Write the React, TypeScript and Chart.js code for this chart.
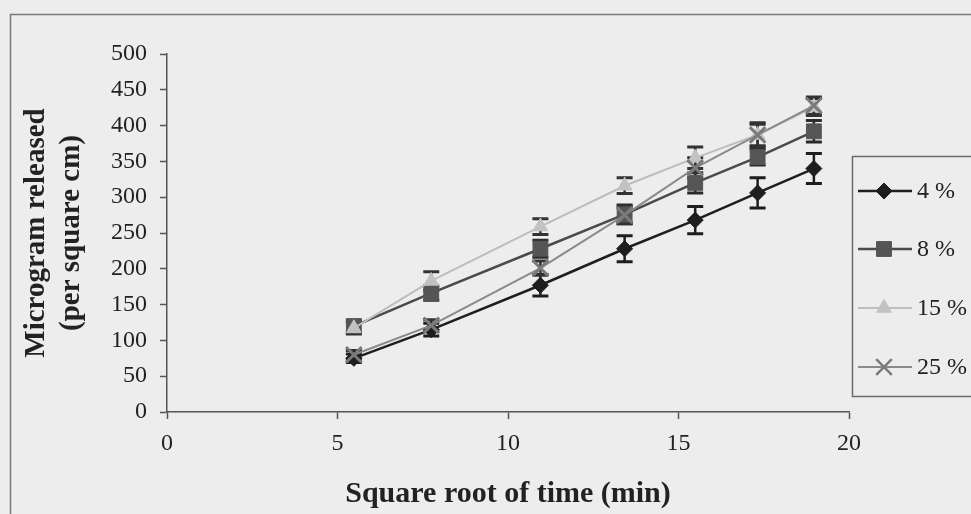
import React, { useEffect, useRef } from "react";
import { Chart, registerables } from "chart.js";
import { drawPoint } from "chart.js/helpers";

Chart.register(...registerables);

// ---- data ----
const sqrtTime = [5.48, 7.75, 10.95, 13.42, 15.49, 17.32, 18.97];
const seriesNames = ["4 %", "8 %", "15 %", "25 %"];
const s4 = [75, 115, 177, 228, 268, 306, 340];
const e4 = [6, 9, 15, 18, 19, 21, 21];
const s8 = [120, 166, 228, 276, 320, 356, 392];
const e8 = [8, 10, 12, 13, 14, 11, 15];
const s15 = [117, 183, 259, 316, 355, 387, 426];
const e15 = [8, 13, 11, 11, 15, 17, 12];
const s25 = [80, 121, 201, 275, 341, 387, 428];
const e25 = [6, 8, 10, 12, 14, 15, 12];
const xTitle = "Square root of time (min)";
const yTitle = ["Microgram released", "(per square cm)"];

const styles = [
  { line: "#1e1e1e", fill: "#1e1e1e", point: "rectRot", radius: 8, width: 2.5, err: "#1e1e1e" },
  { line: "#4a4a4a", fill: "#555555", point: "rect", radius: 10.5, width: 2.5, err: "#2a2a2a" },
  { line: "#bdbdbd", fill: "#c2c2c2", point: "triangle", radius: 8.5, width: 2, err: "#333" },
  { line: "#8a8a8a", fill: "#7a7a7a", point: "crossRot", radius: 11, width: 2, err: "#333" },
];
const values = [s4, s8, s15, s25];
const errors = [e4, e8, e15, e25];

const BG = "#ededed";

export default function App() {
  const ref = useRef<HTMLCanvasElement>(null);

  useEffect(() => {
    if (!ref.current) return;

    const framePlugin = {
      id: "frame",
      beforeDraw(chart: any) {
        const ctx = chart.ctx;
        ctx.save();
        ctx.fillStyle = BG;
        ctx.fillRect(0, 0, chart.width, chart.height);
        ctx.strokeStyle = "#7a7a7a";
        ctx.lineWidth = 1.5;
        ctx.strokeRect(10.5, 14.5, chart.width + 20, chart.height + 20);
        ctx.restore();
      },
    };

    const errorPlugin = {
      id: "errbars",
      beforeDatasetsDraw(chart: any) {
        const ctx = chart.ctx;
        const xs = chart.scales.x;
        const ys = chart.scales.y;
        ctx.save();
        for (let d = 0; d < values.length; d++) {
          ctx.strokeStyle = styles[d].err;
          for (let i = 0; i < sqrtTime.length; i++) {
            const px = xs.getPixelForValue(sqrtTime[i]);
            const top = ys.getPixelForValue(values[d][i] + errors[d][i]);
            const bot = ys.getPixelForValue(values[d][i] - errors[d][i]);
            ctx.lineWidth = 2.5;
            ctx.beginPath();
            ctx.moveTo(px, top);
            ctx.lineTo(px, bot);
            ctx.stroke();
            ctx.lineWidth = 3;
            ctx.beginPath();
            ctx.moveTo(px - 8, top);
            ctx.lineTo(px + 8, top);
            ctx.moveTo(px - 8, bot);
            ctx.lineTo(px + 8, bot);
            ctx.stroke();
          }
        }
        ctx.restore();
      },
    };

    const legendPlugin = {
      id: "customLegend",
      afterDraw(chart: any) {
        const ctx = chart.ctx;
        ctx.save();
        ctx.strokeStyle = "#6a6a6a";
        ctx.lineWidth = 1.5;
        ctx.strokeRect(852.5, 156.5, 200, 240);
        const ys = [191, 249, 308, 367];
        for (let d = 0; d < seriesNames.length; d++) {
          const st = styles[d];
          ctx.strokeStyle = st.line;
          ctx.lineWidth = st.width;
          ctx.beginPath();
          ctx.moveTo(858, ys[d]);
          ctx.lineTo(912, ys[d]);
          ctx.stroke();
          ctx.fillStyle = st.fill;
          ctx.strokeStyle = st.fill;
          ctx.lineWidth = st.point === "crossRot" ? 2.5 : 1;
          drawPoint(ctx, { pointStyle: st.point, radius: st.radius, borderWidth: ctx.lineWidth, rotation: 0 } as any, 884, ys[d]);
          ctx.fillStyle = "#222";
          ctx.font = "24px 'Liberation Serif', 'Times New Roman', serif";
          ctx.textBaseline = "middle";
          ctx.textAlign = "left";
          ctx.fillText(seriesNames[d], 917, ys[d] + 1);
        }
        ctx.restore();
      },
    };

    const datasets = values.map((v, d) => ({
      label: seriesNames[d],
      data: v.map((y, i) => ({ x: sqrtTime[i], y })),
      borderColor: styles[d].line,
      borderWidth: styles[d].width,
      backgroundColor: styles[d].fill,
      pointStyle: styles[d].point,
      pointRadius: styles[d].radius,
      pointBorderColor: styles[d].fill,
      pointBackgroundColor: styles[d].fill,
      pointBorderWidth: styles[d].point === "crossRot" ? 3 : 1,
      tension: 0,
      fill: false,
      order: values.length - d,
    }));

    const serif = "'Liberation Serif', 'Times New Roman', serif";

    const chart = new Chart(ref.current, {
      type: "line",
      data: { datasets },
      plugins: [framePlugin, errorPlugin, legendPlugin],
      options: {
        animation: false,
        responsive: false,
        maintainAspectRatio: false,
        layout: { padding: { left: 0, top: 54, right: 122, bottom: 0 } },
        plugins: {
          legend: { display: false },
          tooltip: { enabled: false },
        },
        scales: {
          x: {
            type: "linear",
            min: 0,
            max: 20,
            afterFit(scale: any) {
              scale.height = 102;
            },
            ticks: {
              stepSize: 5,
              color: "#222",
              font: { family: serif, size: 24 },
              padding: 10,
              maxRotation: 0,
            },
            grid: {
              display: true,
              drawOnChartArea: false,
              drawTicks: true,
              tickLength: 7,
              tickWidth: 1.5,
              tickColor: "#555",
            },
            border: { display: true, color: "#555", width: 1.5 },
            title: {
              display: true,
              text: xTitle,
              color: "#222",
              font: { family: serif, size: 30, weight: "bold", lineHeight: 1.2 },
              padding: { top: 0, bottom: 2 },
            },
          },
          y: {
            type: "linear",
            min: 0,
            max: 500,
            afterFit(scale: any) {
              scale.width = 167;
            },
            ticks: {
              stepSize: 50,
              color: "#222",
              font: { family: serif, size: 24 },
              padding: 13,
            },
            grid: {
              display: true,
              drawOnChartArea: false,
              drawTicks: true,
              tickLength: 7,
              tickWidth: 1.5,
              tickColor: "#555",
            },
            border: { display: true, color: "#555", width: 1.5 },
            title: {
              display: true,
              text: yTitle,
              color: "#222",
              font: { family: serif, size: 29, weight: "bold", lineHeight: 1.2 },
              padding: { top: 19, bottom: 0 },
            },
          },
        },
      },
    } as any);

    return () => chart.destroy();
  }, []);

  return (
    <div style={{ position: "fixed", left: 0, top: 0, width: 971, height: 514, background: BG }}>
      <canvas ref={ref} width={971} height={514} style={{ width: 971, height: 514, display: "block" }} />
    </div>
  );
}
